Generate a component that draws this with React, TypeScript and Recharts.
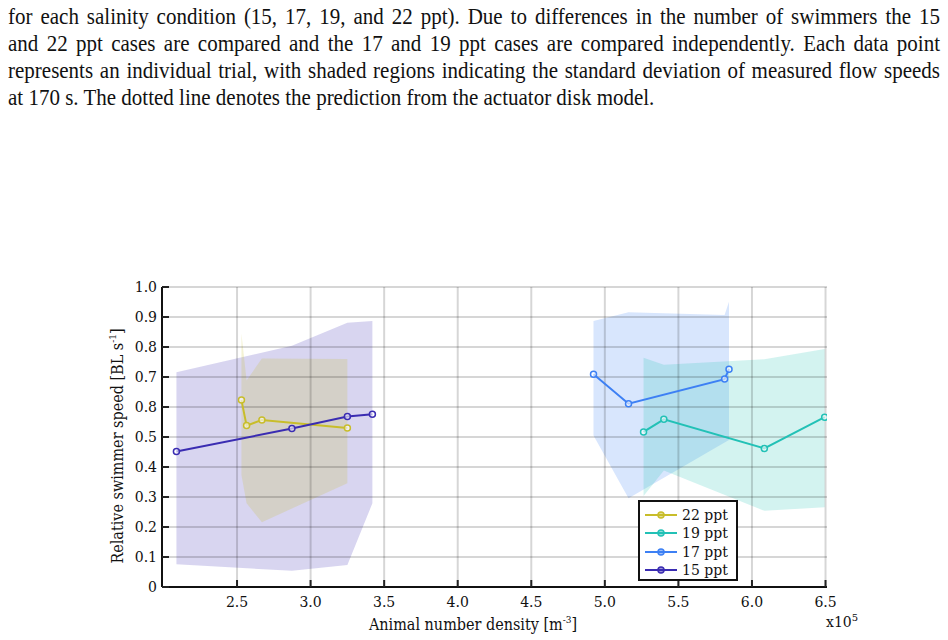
import React from 'react'
import {
  ComposedChart, Area, Line, XAxis, YAxis, CartesianGrid,
} from 'recharts'

// trial positions (x = animal number density, in units of 1e5 m^-3)
const ppt15X = [2.088, 2.873, 3.25, 3.42]
const ppt15Speed = [0.452, 0.528, 0.568, 0.576]
const ppt15Lo = [0.076, 0.054, 0.073, 0.279]
const ppt15Hi = [0.716, 0.804, 0.881, 0.887]

const ppt22X = [2.53, 2.565, 2.669, 3.25]
const ppt22Speed = [0.623, 0.538, 0.557, 0.53]
const ppt22Lo = [0.373, 0.279, 0.216, 0.346]
const ppt22Hi = [0.845, 0.688, 0.762, 0.76]

const ppt17X = [4.923, 5.161, 5.814, 5.844]
const ppt17Speed = [0.709, 0.611, 0.693, 0.726]
const ppt17Lo = [0.505, 0.296, 0.482, 0.49]
const ppt17Hi = [0.887, 0.916, 0.907, 0.951]

const ppt19X = [5.263, 5.401, 6.084, 6.494]
const ppt19Speed = [0.517, 0.559, 0.462, 0.566]
const ppt19Lo = [0.303, 0.388, 0.254, 0.266]
const ppt19Hi = [0.764, 0.741, 0.759, 0.793]

const xTicks = [2.5, 3.0, 3.5, 4.0, 4.5, 5.0, 5.5, 6.0, 6.5]
const yTicks = [0, 0.1, 0.2, 0.3, 0.4, 0.5, 0.6, 0.7, 0.8, 0.9, 1.0]
const yTickLabels = ['0', '0.1', '0.2', '0.3', '0.4', '0.5', '0.8', '0.7', '0.8', '0.9', '1.0']

const captionLines = [
  'for each salinity condition (15, 17, 19, and 22 ppt). Due to differences in the number of swimmers the 15',
  'and 22 ppt cases are compared and the 17 and 19 ppt cases are compared independently. Each data point',
  'represents an individual trial, with shaded regions indicating the standard deviation of measured flow speeds',
  'at 170 s. The dotted line denotes the prediction from the actuator disk model.',
]

const build = (xs: number[], speed: number[], lo: number[], hi: number[]) =>
  xs.map((x, i) => ({ x, speed: speed[i], band: [lo[i], hi[i]] }))

const series = [
  { name: '22 ppt', color: '#c8bd2a', data: build(ppt22X, ppt22Speed, ppt22Lo, ppt22Hi) },
  { name: '19 ppt', color: '#22c1b6', data: build(ppt19X, ppt19Speed, ppt19Lo, ppt19Hi) },
  { name: '17 ppt', color: '#3d80f4', data: build(ppt17X, ppt17Speed, ppt17Lo, ppt17Hi) },
  { name: '15 ppt', color: '#3a2cb2', data: build(ppt15X, ppt15Speed, ppt15Lo, ppt15Hi) },
]

// shaded regions go underneath, back to front
const areaOrder = ['15 ppt', '22 ppt', '17 ppt', '19 ppt']

const tickFont = 'DejaVu Serif, serif'
const labelFont = "'DejaVu Serif Condensed', 'DejaVu Serif', serif"
const X_DOMAIN: [number, number] = [1.99, 6.51]

const XTick = ({ x, y, payload }: any) => (
  <g>
    <line x1={x} x2={x} y1={y} y2={y - 7} stroke="#222" strokeWidth={2} />
    <text x={x} y={y + 20} textAnchor="middle" fontSize={14} fontFamily={tickFont} fill="#111">
      {payload.value.toFixed(1)}
    </text>
  </g>
)

const YTick = ({ x, y, payload, index }: any) => (
  <g>
    <line x1={x} x2={x + 7} y1={y} y2={y} stroke="#222" strokeWidth={2} />
    <text x={x - 5} y={y} dy="0.36em" textAnchor="end" fontSize={14} fontFamily={tickFont} fill="#111">
      {yTickLabels[index] ?? payload.value}
    </text>
  </g>
)

const LegendBox = () => (
  <div style={{
    position: 'absolute', left: 638, top: 500, boxSizing: 'border-box', width: 100, height: 81,
    border: '2px solid #111', background: '#fff', padding: '4px 0 0 0',
    fontFamily: tickFont, fontSize: 14, color: '#111',
  }}>
    {series.map((s) => (
      <div key={s.name} style={{ display: 'flex', alignItems: 'center', height: 18.3 }}>
        <svg width={42} height={12} style={{ flex: 'none' }}>
          <line x1={5} x2={37} y1={6} y2={6} stroke={s.color} strokeWidth={2} />
          <circle cx={21} cy={6} r={3} stroke={s.color} strokeWidth={1.5} fill={s.color} fillOpacity={0.5} />
        </svg>
        <span style={{ lineHeight: '14px' }}>{s.name}</span>
      </div>
    ))}
  </div>
)

export default function App() {
  return (
    <div style={{ position: 'fixed', left: 0, top: 0, width: 948, height: 640, background: '#fff', overflow: 'hidden' }}>
      {/* caption set slightly tall, like the figure text */}
      <div style={{
        position: 'absolute', left: 8, top: 3.7, width: 932,
        fontFamily: 'Liberation Serif, serif', fontSize: 21, lineHeight: '23.84px', color: '#111',
        transform: 'scaleY(1.12)', transformOrigin: '0 0',
      }}>
        {captionLines.map((line, i) => (
          <div key={i} style={{
            textAlign: 'justify',
            textAlignLast: i < captionLines.length - 1 ? 'justify' : 'left',
            whiteSpace: 'nowrap',
          } as React.CSSProperties}>
            {line}
          </div>
        ))}
      </div>

      <div style={{ position: 'absolute', left: 0, top: 250 }}>
        <ComposedChart width={948} height={390} margin={{ top: 37, right: 121, bottom: 23, left: 112 }}>
          {areaOrder.map((name) => {
            const s = series.find((d) => d.name === name)!
            return (
              <Area
                key={'band-' + name}
                data={s.data}
                dataKey="band"
                type="linear"
                stroke="none"
                fill={s.color}
                fillOpacity={0.2}
                isAnimationActive={false}
                legendType="none"
                activeDot={false}
              />
            )
          })}
          <CartesianGrid stroke="rgba(0,0,0,0.16)" strokeWidth={2} horizontalValues={yTicks} verticalValues={xTicks} zIndex={150} />
          <XAxis
            dataKey="x" type="number" domain={X_DOMAIN} ticks={xTicks} allowDataOverflow
            tick={<XTick />} tickLine={false} tickSize={0} tickMargin={0} height={30}
            axisLine={{ stroke: '#111', strokeWidth: 2 }} interval={0}
          />
          <XAxis
            xAxisId="top" orientation="top" type="number" domain={X_DOMAIN} height={0}
            tick={false} tickLine={false} axisLine={{ stroke: '#111', strokeWidth: 2 }}
          />
          <YAxis
            type="number" domain={[0, 1]} ticks={yTicks} width={50} interval={0}
            tick={<YTick />} tickLine={false} tickSize={0} tickMargin={0}
            axisLine={{ stroke: '#111', strokeWidth: 2 }}
          />
          <YAxis
            yAxisId="right" orientation="right" type="number" domain={[0, 1]} width={0}
            tick={false} tickLine={false} axisLine={{ stroke: '#111', strokeWidth: 2 }}
          />
          {series.map((s) => (
            <Line
              key={s.name}
              name={s.name}
              data={s.data}
              dataKey="speed"
              type="linear"
              stroke={s.color}
              strokeWidth={2}
              dot={{ r: 3, stroke: s.color, strokeWidth: 1.5, fill: '#fff', fillOpacity: 0.6 }}
              activeDot={false}
              isAnimationActive={false}
            />
          ))}
        </ComposedChart>
      </div>

      <LegendBox />

      <div style={{
        position: 'absolute', left: 117, top: 446, transform: 'translate(-50%, -50%) rotate(-90deg)',
        whiteSpace: 'nowrap', fontFamily: labelFont, fontSize: 16, color: '#111',
      }}>
        Relative swimmer speed [BL s<sup style={{ fontSize: 10 }}>-1</sup>]
      </div>
      <div style={{
        position: 'absolute', left: 473, top: 624, transform: 'translate(-50%, -50%)',
        whiteSpace: 'nowrap', fontFamily: labelFont, fontSize: 16, color: '#111',
      }}>
        Animal number density [m<sup style={{ fontSize: 10 }}>-3</sup>]
      </div>
      <div style={{
        position: 'absolute', left: 826, top: 612, whiteSpace: 'nowrap',
        fontFamily: tickFont, fontSize: 14, color: '#111',
      }}>
        x10<sup style={{ fontSize: 10 }}>5</sup>
      </div>
    </div>
  )
}
